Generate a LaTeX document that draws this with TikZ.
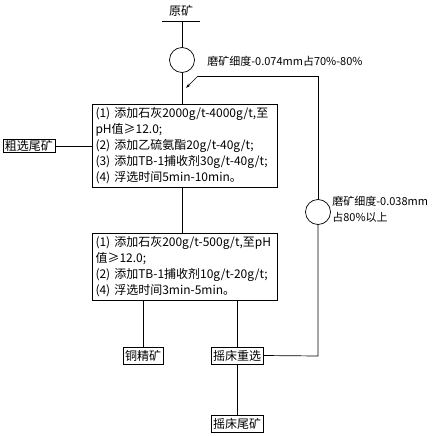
\documentclass[tikz,border=0pt]{standalone}
\usepackage{fontspec}
\setmainfont{Noto Sans CJK SC}
\usetikzlibrary{arrows.meta}
\begin{document}
\begin{tikzpicture}[x=1pt,y=-1pt,line width=0.7pt,
  every node/.style={font=\fontsize{11}{16}\selectfont},
  bigbox/.style={draw,align=left,inner sep=0pt,minimum width=185pt,text width=178pt,font=\fontsize{12}{16}\selectfont},
  smallbox/.style={draw,inner xsep=2pt,inner ysep=0.5pt,minimum height=17pt,font=\fontsize{12}{14}\selectfont},
  mill/.style={draw,circle,minimum size=25pt,inner sep=0pt},
  note/.style={anchor=west,align=left,inner sep=0pt}]
\useasboundingbox (0,0) rectangle (433,436);
% feed
\node[inner sep=0pt,font=\fontsize{12}{14}\selectfont] (feed) at (181,11) {原矿};
\coordinate (fl) at (162,21);
\coordinate (fr) at (200,21);
\coordinate (fm) at (182,21);
\draw (fl) -- (fr);
\node[mill] (c1) at (182,60) {};
\node[note] (t1) at (207,61) {磨矿细度-0.074mm占70\%-80\%};
% rougher
\node[bigbox,minimum height=83pt] (b1) at (184.5,145.5) {(1) 添加石灰2000g/t-4000g/t,至\\
pH值≥12.0;\\
(2) 添加乙硫氨酯20g/t-40g/t;\\
(3) 添加TB-1捕收剂30g/t-40g/t;\\
(4) 浮选时间5min-10min。};
\node[smallbox,minimum height=13pt] (rt) at (29,146) {粗选尾矿};
% cleaner
\node[bigbox,minimum height=67pt] (b2) at (184.5,266.5) {(1) 添加石灰200g/t-500g/t,至pH\\
值≥12.0;\\
(2) 添加TB-1捕收剂10g/t-20g/t;\\
(4) 浮选时间3min-5min。};
\node[smallbox] (cc) at (143,355.5) {铜精矿};
\node[smallbox] (st) at (237,355.5) {摇床重选};
\node[smallbox] (sw) at (237,423.5) {摇床尾矿};
% regrind
\node[mill] (c2) at (318,212) {};
\node[note] (t2) at (332,209.5) {磨矿细度-0.038mm\\占80\%以上};
\coordinate (rc) at (318,356);
\coordinate (tc) at (318,76);
\coordinate (tl) at (198,76);
\coordinate (ta) at (186,88);
% connectors
\draw (fm) -- (c1.north);
\draw (c1.south) -- (b1.north -| c1.south);
\draw (rt.east) -- (b1.west |- rt.east);
\draw (b1.south -| c1.south) -- (b2.north -| c1.south);
\draw (b2.south -| cc.north) -- (cc.north);
\draw (b2.south -| st.north) -- (st.north);
\draw (st.south) -- (sw.north);
\draw (st.east) -- (rc) -- (c2.south);
\draw (c2.north) -- (tc) -- (tl);
\draw[-{Stealth[length=5pt,width=3pt]}] (tl) -- (ta);
\end{tikzpicture}
\end{document}
